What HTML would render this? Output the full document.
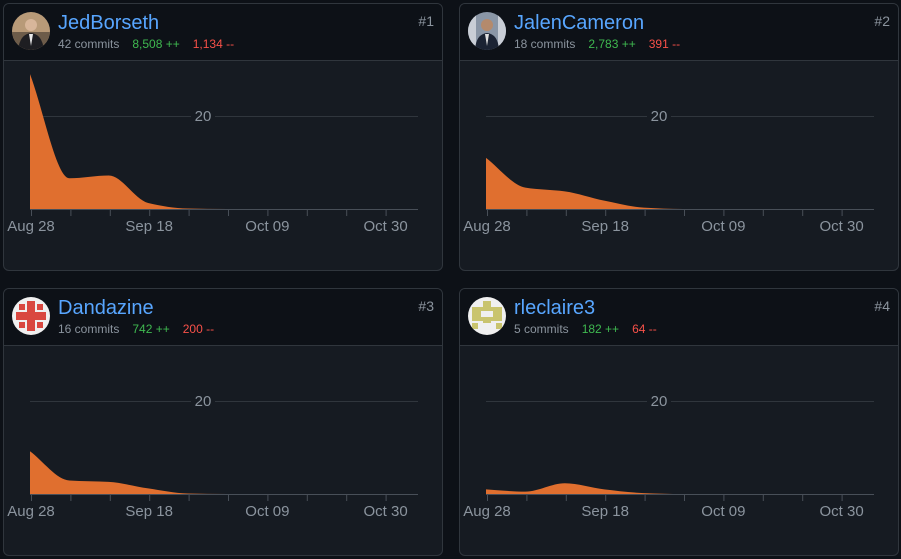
<!DOCTYPE html>
<html><head><meta charset="utf-8"><style>
body{margin:0;background:#0d1117;width:901px;height:559px;overflow:hidden;font-family:"Liberation Sans",sans-serif;position:relative}
.card{position:absolute;width:440px;height:268px;border:1px solid #30363d;border-radius:6px;background:#161b22;box-sizing:border-box;overflow:hidden}
.hd{position:absolute;left:0;top:0;right:0;height:56px;background:#0d1117;border-bottom:1px solid #30363d}
.av{position:absolute;left:8px;top:8px;width:38px;height:38px;border-radius:50%;overflow:hidden}
.nm{position:absolute;left:54px;top:8px;font-size:20px;color:#58a6ff}
.st{position:absolute;left:54px;top:33px;font-size:12px;color:#8b949e;white-space:nowrap}
.st .g{color:#3fb950;margin-left:13px}.st .r{color:#f85149;margin-left:13px}
.rk{position:absolute;right:8px;top:9px;font-size:14px;color:#8b949e}
svg.ch{position:absolute;left:0;top:0}
</style></head><body>
<div class="card" style="left:3px;top:3px">
 <div class="hd">
  <div class="av"><svg width="38" height="38"><rect width="38" height="38" fill="#b89a78"/><rect y="20" width="38" height="18" fill="#6d5c4a"/><circle cx="19" cy="13" r="6" fill="#d8b69a"/><path d="M6 38 Q8 22 19 21 Q30 22 32 38Z" fill="#1e1e22"/><path d="M17 22 L19 34 L21 22Z" fill="#e8e8e8"/></svg></div>
  <div class="nm">JedBorseth</div>
  <div class="st">42 commits<span class="g">8,508 ++</span><span class="r">1,134 --</span></div>
  <div class="rk">#1</div>
 </div>
 <svg class="ch" id="c1" width="440" height="268"></svg>
</div>
<div class="card" style="left:459px;top:3px">
 <div class="hd">
  <div class="av"><svg width="38" height="38"><rect width="38" height="38" fill="#8a96a6"/><rect x="0" width="8" height="38" fill="#c9ced6"/><rect x="30" width="8" height="38" fill="#c9ced6"/><circle cx="19" cy="13" r="6" fill="#b48a6c"/><path d="M7 38 Q8 22 19 21 Q30 22 31 38Z" fill="#1b2333"/><path d="M17 22 L19 34 L21 22Z" fill="#e0e0e0"/></svg></div>
  <div class="nm">JalenCameron</div>
  <div class="st">18 commits<span class="g">2,783 ++</span><span class="r">391 --</span></div>
  <div class="rk">#2</div>
 </div>
 <svg class="ch" id="c2" width="440" height="268"></svg>
</div>
<div class="card" style="left:3px;top:288px">
 <div class="hd">
  <div class="av"><svg width="38" height="38"><rect width="38" height="38" fill="#f0f0f0"/><rect x="15" y="4" width="8" height="30" fill="#d9473f"/><rect x="4" y="15" width="30" height="8" fill="#d9473f"/><rect x="7" y="7" width="6" height="6" fill="#d9473f"/><rect x="25" y="7" width="6" height="6" fill="#d9473f"/><rect x="7" y="25" width="6" height="6" fill="#d9473f"/><rect x="25" y="25" width="6" height="6" fill="#d9473f"/></svg></div>
  <div class="nm">Dandazine</div>
  <div class="st">16 commits<span class="g">742 ++</span><span class="r">200 --</span></div>
  <div class="rk">#3</div>
 </div>
 <svg class="ch" id="c3" width="440" height="268"></svg>
</div>
<div class="card" style="left:459px;top:288px">
 <div class="hd">
  <div class="av"><svg width="38" height="38"><rect width="38" height="38" fill="#f0f0f0"/><rect x="4" y="10" width="30" height="14" fill="#c9c46e"/><rect x="15" y="4" width="8" height="22" fill="#c9c46e"/><rect x="13" y="14" width="12" height="6" fill="#f0f0f0"/><rect x="4" y="26" width="6" height="6" fill="#c9c46e"/><rect x="28" y="26" width="6" height="6" fill="#c9c46e"/></svg></div>
  <div class="nm">rleclaire3</div>
  <div class="st">5 commits<span class="g">182 ++</span><span class="r">64 --</span></div>
  <div class="rk">#4</div>
 </div>
 <svg class="ch" id="c4" width="440" height="268"></svg>
</div>
<script>
const weeks = ["Aug 28","Sep 04","Sep 11","Sep 18","Sep 25","Oct 02","Oct 09","Oct 16","Oct 23","Oct 30"];
const tickLabels = ["Aug 28","Sep 18","Oct 09","Oct 30"];
const yTicks = [20];
const jedCommits = [29, 6.6, 7.2, 1.3, 0.1, 0, 0, 0, 0, 0];
const jalenCommits = [11, 4.6, 3.8, 1.8, 0.3, 0, 0, 0, 0, 0];
const danCommits = [9.2, 2.9, 2.6, 1.2, 0.1, 0, 0, 0, 0, 0];
const rleCommits = [1, 0.5, 2.3, 1.0, 0.2, 0, 0, 0, 0, 0];
const NS="http://www.w3.org/2000/svg";
function mk(t,a){const e=document.createElementNS(NS,t);for(const k in a)e.setAttribute(k,a[k]);return e;}
function draw(id,vals){
 const svg=document.getElementById(id);
 const base=205, yMax=20, yPx=93, x0=26, step=39.4, xEnd=414;
 const x=i=>x0+i*step, y=v=>base-v/yMax*yPx;
 yTicks.forEach(t=>{
  const g=mk('line',{x1:26,x2:xEnd,y1:y(t)+0.5,y2:y(t)+0.5,stroke:'#30363d','stroke-width':1});
  
  
  svg.appendChild(g);
  const bg=mk('rect',{x:187,y:y(t)-9,width:24,height:18,fill:'#161b22'});
  
  
  svg.appendChild(bg);
  const tx=mk('text',{x:199,y:y(t)+5,'text-anchor':'middle','font-size':15,fill:'#8b949e','font-family':'Liberation Sans, sans-serif'});
  tx.textContent=t;
  
  
  svg.appendChild(tx);
 });
 const n=vals.length,pts=vals.map((v,i)=>[x(i),y(v)]);
 const d=[],m=[];
 for(let i=0;i<n-1;i++)d.push((pts[i+1][1]-pts[i][1])/step);
 m[0]=d[0];m[n-1]=d[n-2];
 for(let i=1;i<n-1;i++)m[i]=(d[i-1]*d[i]<=0)?0:(2/(1/d[i-1]+1/d[i]));
 let p=`M${x0},${base}L${pts[0][0]},${pts[0][1]}`;
 for(let i=0;i<n-1;i++){const h=step/3;p+=`C${pts[i][0]+h},${pts[i][1]+m[i]*h} ${pts[i+1][0]-h},${pts[i+1][1]-m[i+1]*h} ${pts[i+1][0]},${pts[i+1][1]}`;}
 p+=`L${xEnd},${base}L${x0},${base}Z`;
 const area=mk('path',{d:p,fill:'#e06f2f'});
 
 
 svg.appendChild(area);
 const ax=mk('line',{x1:26,x2:xEnd,y1:base+0.5,y2:base+0.5,stroke:'#484f58','stroke-width':1});
 
 
 svg.appendChild(ax);
 weeks.forEach((w,i)=>{
  const tk=mk('line',{x1:x(i)+1.5,x2:x(i)+1.5,y1:base,y2:base+7,stroke:'#484f58','stroke-width':1});
  
  
  svg.appendChild(tk);
  if(tickLabels.includes(w)){
   const tx=mk('text',{x:x(i)+1,y:base+22,'text-anchor':'middle','font-size':15,fill:'#8b949e','font-family':'Liberation Sans, sans-serif'});
   tx.textContent=w;
   
   
   svg.appendChild(tx);
  }
 });
}
draw('c1',jedCommits);draw('c2',jalenCommits);draw('c3',danCommits);draw('c4',rleCommits);
</script>
</body></html>
